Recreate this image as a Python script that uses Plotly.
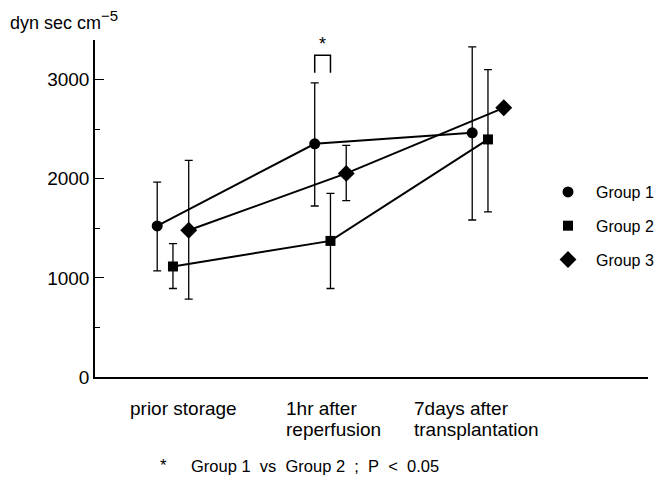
import plotly.graph_objects as go

cat_pos = [1, 2, 3]
cat_line1 = ["prior storage", "1hr after", "7days after"]
cat_line2 = ["", "reperfusion", "transplantation"]
groups = ["Group 1", "Group 2", "Group 3"]
offsets = [-0.1, 0.0, 0.1]
symbols = ["circle", "square", "diamond"]

g1_mean = [1524, 2353, 2464]
g1_upper = [1967, 2968, 3330]
g1_lower = [1070, 1725, 1584]

g2_mean = [1115, 1373, 2397]
g2_upper = [1346, 1853, 3102]
g2_lower = [893, 893, 1665]

g3_mean = [1480, 2054, 2716]
g3_upper = [2185, 2336, 2716]
g3_lower = [785, 1779, 2716]

y_ticks = [0, 1000, 2000, 3000]

means = [g1_mean, g2_mean, g3_mean]
uppers = [g1_upper, g2_upper, g3_upper]
lowers = [g1_lower, g2_lower, g3_lower]
sizes = [11, 10, 13]

FONT = "Liberation Sans, Arial, sans-serif"
PLOT_H = 337.0
fig = go.Figure()

for i in range(3):
    xs = [c + offsets[i] for c in cat_pos]
    fig.add_trace(go.Scatter(
        x=xs, y=means[i], mode="lines+markers", showlegend=False,
        line=dict(color="black", width=2),
        marker=dict(symbol=symbols[i], size=sizes[i], color="black"),
        error_y=dict(type="data", symmetric=False,
                     array=[u - m for u, m in zip(uppers[i], means[i])],
                     arrayminus=[m - l for m, l in zip(means[i], lowers[i])],
                     color="black", thickness=1.3, width=4),
        cliponaxis=False,
    ))

for i in range(3):
    fig.add_trace(go.Scatter(
        x=[None], y=[None], mode="markers", name=groups[i],
        marker=dict(symbol=symbols[i], size=sizes[i], color="black"),
        legendgroup=groups[i],
    ))

# significance bracket between Group 1 and Group 2 at 1hr
bx1 = cat_pos[1] + offsets[0]
bx2 = cat_pos[1] + offsets[1]
fig.add_trace(go.Scatter(
    x=[bx1, bx1, bx2, bx2], y=[3070, 3245, 3245, 3070], mode="lines",
    line=dict(color="black", width=1.5), showlegend=False, cliponaxis=False,
))
fig.add_annotation(x=(bx1 + bx2) / 2, y=3360, xref="x", yref="y", text="*",
                   showarrow=False, font=dict(size=18, color="black", family=FONT))

left_shift = [-45, -46, -76]
for c, l1, l2, sh in zip(cat_pos, cat_line1, cat_line2, left_shift):
    fig.add_annotation(x=c, y=-31 / PLOT_H, xref="x", yref="paper", text=l1,
                       showarrow=False, xanchor="left", yanchor="middle", xshift=sh,
                       font=dict(size=19, color="black", family=FONT))
    if l2:
        fig.add_annotation(x=c, y=-52 / PLOT_H, xref="x", yref="paper", text=l2,
                           showarrow=False, xanchor="left", yanchor="middle", xshift=sh,
                           font=dict(size=19, color="black", family=FONT))

fig.add_annotation(x=-87 / 553, y=(377 - 35) / PLOT_H, xref="paper", yref="paper",
                   text="dyn sec cm<sup><span style='font-size:15px'>−5</span></sup>",
                   showarrow=False, xanchor="left", yanchor="bottom",
                   font=dict(size=18, color="black", family=FONT))

fig.add_annotation(x=(163 - 95) / 553, y=-88 / PLOT_H, xref="paper", yref="paper",
                   text="*", showarrow=False, xanchor="center", yanchor="middle",
                   font=dict(size=17, color="black", family=FONT))
fig.add_annotation(x=(189 - 95) / 553, y=-89 / PLOT_H, xref="paper", yref="paper",
                   text="Group 1&nbsp; vs&nbsp; Group 2&nbsp; ;&nbsp; P&nbsp; <&nbsp; 0.05",
                   showarrow=False, xanchor="left", yanchor="middle",
                   font=dict(size=16.5, color="black", family=FONT))

fig.update_layout(
    width=651, height=469,
    margin=dict(l=87, r=11, t=32, b=100, autoexpand=False),
    plot_bgcolor="white", paper_bgcolor="white",
    font=dict(family=FONT, size=16, color="black"),
    legend=dict(x=(540 - 95) / 553, y=(377 - 175) / PLOT_H, xanchor="left", yanchor="top",
                traceorder="grouped", tracegroupgap=10, itemwidth=46,
                font=dict(size=16, family=FONT), bgcolor="rgba(0,0,0,0)"),
    xaxis=dict(range=[0.505, 4.016], showline=True, linecolor="black", linewidth=1.5,
               showgrid=False, zeroline=False, showticklabels=False, ticks=""),
    yaxis=dict(range=[0, 3400], showline=True, linecolor="black", linewidth=1.5,
               showgrid=False, zeroline=False, tickvals=y_ticks,
               ticktext=[str(v) for v in y_ticks],
               ticks="inside", ticklen=9, tickwidth=1.3, tickcolor="black",
               tickfont=dict(size=19, family=FONT),
               minor=dict(dtick=500, ticks="inside", ticklen=5, tickwidth=1.3, tickcolor="black")),
)

fig.write_html("out.html")
